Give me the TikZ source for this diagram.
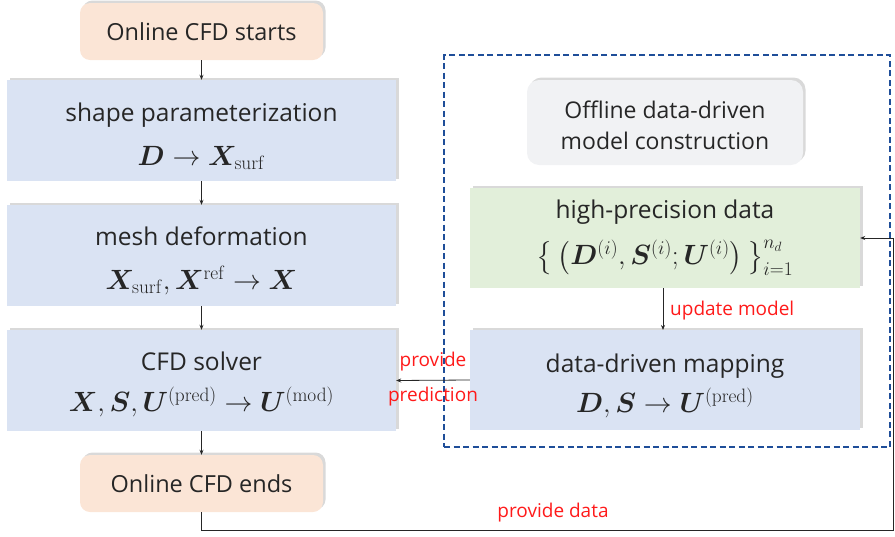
\documentclass[tikz,border=0pt]{standalone}
\usepackage{amsmath,bm}
\usepackage[no-math]{fontspec}
\setmainfont{Open Sans}
\usetikzlibrary{shadows,arrows.meta}
\definecolor{peach}{HTML}{FBE5D6}
\definecolor{lblue}{HTML}{DAE3F3}
\definecolor{lgreen}{HTML}{E2EFDA}
\definecolor{lgray}{HTML}{F1F2F4}
\definecolor{dblue}{HTML}{1F4E99}
\definecolor{lred}{HTML}{FF1A1A}
\definecolor{txt}{HTML}{262626}
\tikzset{
  shd/.style={drop shadow={opacity=0.3,shadow xshift=2.5pt,shadow yshift=2.5pt}},
  procbox/.style={shd,fill=lblue,minimum width=389pt,minimum height=101pt,align=center,text=txt,inner sep=0pt,
    font=\fontsize{24.5}{44}\selectfont},
  termbox/.style={shd,fill=peach,rounded corners=10pt,minimum width=243pt,minimum height=57pt,align=center,text=txt,
    font=\fontsize{23.5}{28}\selectfont},
  arr/.style={-{Stealth[length=5pt,width=4pt]},line width=0.8pt,draw=black!85},
  lbl/.style={text=lred,font=\fontsize{19}{22}\selectfont,inner sep=0pt},
}
\newcommand{\bmath}[1]{\scalebox{1.12}{$#1$}}
\newcommand{\tstrut}[1]{\rule{0pt}{#1}}
\begin{document}
\begin{tikzpicture}[x=1pt,y=-1pt]
\useasboundingbox (0,0) rectangle (895,536);
% frame
\node[draw=dblue,dashed,dash pattern=on 6pt off 3.5pt,line width=1.6pt,minimum width=446pt,minimum height=392pt,inner sep=0pt] (frame) at (667,251) {};
% left column
\node[termbox] (start) at (201.5,31.5) {Online CFD starts};
\node[procbox] (sp) at (201.5,130.5) {\tstrut{30pt}shape parameterization\\ \bmath{\bm{D}\rightarrow\bm{X}_{\mathrm{surf}}}};
\node[procbox] (mesh) at (201.5,255.5) {\tstrut{30pt}mesh deformation\\ \bmath{\bm{X}_{\mathrm{surf}},\bm{X}^{\mathrm{ref}}\rightarrow\bm{X}}};
\node[procbox] (cfd) at (201.5,380.5) {\tstrut{27pt}CFD solver\\[-3pt] \bmath{\bm{X},\bm{S},\bm{U}^{(\mathrm{pred})}\rightarrow\bm{U}^{(\mathrm{mod})}}};
\node[termbox] (ends) at (201.5,483.5) {Online CFD ends};
% right column
\node[shd,fill=lgray,rounded corners=12pt,minimum width=276pt,minimum height=85pt,align=center,text=txt,
  font=\fontsize{23}{31}\selectfont] (off) at (665,122.5) {\tstrut{24pt}Offline data-driven\\ model construction};
\node[procbox,fill=lgreen,minimum width=390pt,minimum height=100pt,font=\fontsize{24.5}{40}\selectfont] (hp) at (665,238)
  {high-precision data\\[6pt] \bmath{\big\{\,\big(\bm{D}^{(i)},\bm{S}^{(i)};\bm{U}^{(i)}\big)\,\big\}_{i=1}^{n_d}}};
\node[procbox,minimum width=390pt,minimum height=100pt] (ddm) at (665,380)
  {\tstrut{30pt}data-driven mapping\\[-4pt] \bmath{\bm{D},\bm{S}\rightarrow\bm{U}^{(\mathrm{pred})}}};
% arrows
\draw[arr] (start) -- (sp);
\draw[arr] (sp) -- (mesh);
\draw[arr] (mesh) -- (cfd);
\draw[arr] (cfd) -- (ends);
\coordinate (hpb) at (663,288);
\coordinate (ddt) at (663,330);
\draw[arr] (hpb) -- (ddt);
\draw[arr] (ddm.west) -- (cfd.east);
\coordinate (c1) at (893,530);
\coordinate (c2) at (893,238);
\draw[arr] (ends.south) |- (c1) -- (c2) -- (hp.east);
% labels
\node[lbl,anchor=west] (lupd) at (670,311) {update model};
\node[lbl] (lprov) at (433,362) {provide};
\node[lbl] (lpred) at (433,397) {prediction};
\node[lbl] (ldata) at (553,513) {provide data};
\end{tikzpicture}
\end{document}
